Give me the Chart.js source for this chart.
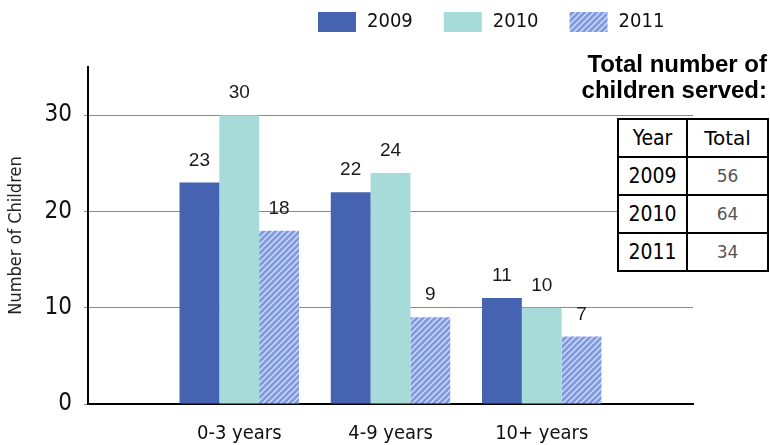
<!DOCTYPE html>
<html>
<head>
<meta charset="utf-8">
<script src="https://cdn.jsdelivr.net/npm/chart.js@4"></script>
<style>
  body { margin: 0; background: #fff; }
  #wrap { position: relative; width: 770px; height: 445px; }
  #title {
    position: absolute; right: 3px; top: 51px; text-align: right;
    font: bold 24px "Liberation Sans", Arial, sans-serif; line-height: 26px; color: #000;
  }
  #totals {
    position: absolute; left: 617px; top: 118px; border-collapse: collapse;
    background: #fff;
  }
  #totals td {
    border: 2px solid #000; height: 36px; padding: 0; text-align: center;
    font: 21px "DejaVu Sans Condensed", "DejaVu Sans", sans-serif; color: #000;
  }
  #totals td.y { width: 67px; }
  #totals td.t { width: 79px; color: #555; font: 17px "DejaVu Sans", sans-serif; }
  #totals td.h { color: #000; font: 20px "DejaVu Sans", sans-serif; }
</style>
</head>
<body>
<div id="wrap">
  <canvas id="kidsChart" width="770" height="445"></canvas>
  <div id="title">Total number of<br>children served:</div>
  <table id="totals">
    <tr><td class="y">Year</td><td class="t h">Total</td></tr>
    <tr><td class="y">2009</td><td class="t">56</td></tr>
    <tr><td class="y">2010</td><td class="t">64</td></tr>
    <tr><td class="y">2011</td><td class="t">34</td></tr>
  </table>
</div>
<script>
const ageGroups = ['0-3 years', '4-9 years', '10+ years'];
const years = ['2009', '2010', '2011'];
const kids2009 = [23, 22, 11];
const kids2010 = [30, 24, 10];
const kids2011 = [18, 9, 7];
const yTicks = [0, 10, 20, 30];

// hatch fill for 2011
function hatchPattern() {
  const c = document.createElement('canvas');
  c.width = 6; c.height = 6;
  const g = c.getContext('2d');
  g.fillStyle = '#7f9ae0';
  g.fillRect(0, 0, 6, 6);
  g.strokeStyle = '#d3ddf6';
  g.lineWidth = 1.4;
  g.beginPath();
  g.moveTo(-1, 7); g.lineTo(7, -1);
  g.moveTo(-1, 1); g.lineTo(1, -1);
  g.moveTo(5, 7); g.lineTo(7, 5);
  g.stroke();
  return g.createPattern(c, 'repeat');
}

const ctx = document.getElementById('kidsChart').getContext('2d');
const hatch = hatchPattern();

// blank slots at both ends so groups sit at 1/4, 2/4, 3/4 of the axis
const labels = [''].concat(ageGroups, ['']);
const pad = arr => [null].concat(arr, [null]);

const barLabels = {
  id: 'barLabels',
  afterDatasetsDraw(chart) {
    const c = chart.ctx;
    c.save();
    c.font = '19px "Liberation Sans", Arial, sans-serif';
    c.fillStyle = '#1a1a1a';
    c.textAlign = 'center';
    c.textBaseline = 'alphabetic';
    chart.data.datasets.forEach((ds, i) => {
      chart.getDatasetMeta(i).data.forEach((bar, j) => {
        if (ds.data[j] == null) return;
        c.fillText(String(ds.data[j]), bar.x, bar.y - 17);
      });
    });
    c.restore();
  }
};

const topLegend = {
  id: 'topLegend',
  afterDraw(chart) {
    const c = chart.ctx;
    c.save();
    c.font = '20px "DejaVu Sans Condensed", "DejaVu Sans", sans-serif';
    c.textBaseline = 'middle';
    let x = 318;
    chart.data.datasets.forEach(ds => {
      c.fillStyle = ds.backgroundColor;
      c.fillRect(x, 12, 38, 20);
      c.fillStyle = '#111';
      c.fillText(ds.label, x + 49, 22);
      x += 49 + c.measureText(ds.label).width + 31;
    });
    c.restore();
  }
};

new Chart(ctx, {
  type: 'bar',
  data: {
    labels: labels,
    datasets: [{
      label: years[0],
      data: pad(kids2009),
      backgroundColor: '#4563b1',
      borderWidth: 0
    }, {
      label: years[1],
      data: pad(kids2010),
      backgroundColor: '#a6dbd9',
      borderWidth: 0
    }, {
      label: years[2],
      data: pad(kids2011),
      backgroundColor: hatch,
      borderWidth: 0
    }]
  },
  options: {
    responsive: false,
    animation: false,
    layout: {
      padding: { top: 67, right: 77, left: 0, bottom: 0 }
    },
    plugins: {
      legend: { display: false },
      tooltip: { enabled: false }
    },
    datasets: {
      bar: { barPercentage: 1, categoryPercentage: 0.79, skipNull: false }
    },
    scales: {
      x: {
        offset: false,
        grid: { display: false, drawTicks: false },
        border: { color: '#000', width: 2 },
        ticks: {
          color: '#111',
          padding: 18,
          maxRotation: 0,
          autoSkip: false,
          font: { family: '"DejaVu Sans Condensed", "DejaVu Sans", sans-serif', size: 20 }
        },
        afterFit(scale) { scale.height = 41; }
      },
      y: {
        min: 0,
        max: 35,
        afterBuildTicks(scale) {
          scale.ticks = yTicks.map(v => ({ value: v }));
        },
        grid: { color: '#8a8a8a', lineWidth: 1, tickLength: 4 },
        border: { color: '#000', width: 2 },
        ticks: {
          color: '#111',
          padding: 12,
          font: { family: '"DejaVu Sans Condensed", "DejaVu Sans", sans-serif', size: 24 }
        },
        title: {
          display: true,
          text: 'Number of Children',
          color: '#222',
          padding: { top: 6, bottom: 0 },
          font: { family: '"DejaVu Sans Condensed", "DejaVu Sans", sans-serif', size: 18 }
        },
        afterFit(scale) { scale.width = 88; }
      }
    }
  },
  plugins: [barLabels, topLegend]
});
</script>
</body>
</html>
